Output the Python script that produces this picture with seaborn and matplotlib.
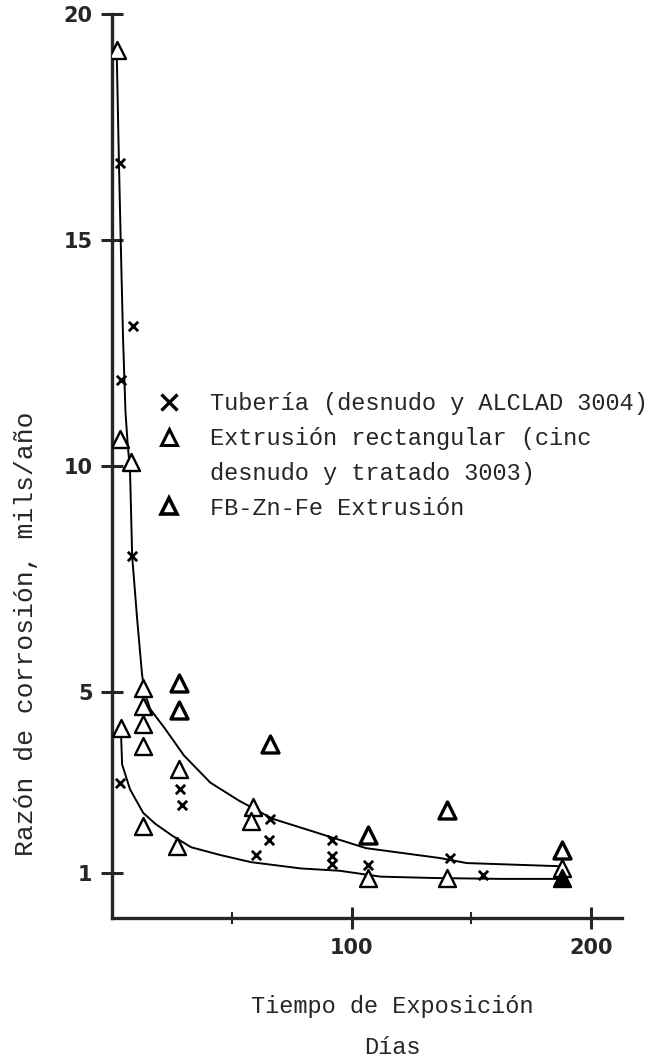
import matplotlib
matplotlib.use("Agg")
import matplotlib.pyplot as plt
import seaborn as sns
from matplotlib.lines import Line2D

# Tuberia (desnudo y ALCLAD 3004): x marks
tub_dias = [3.3, 8.8, 3.8, 8.4, 3.3, 28.5, 29, 66, 65.7, 60, 92, 92, 92, 107, 141, 155]
tub_razon = [16.7, 13.1, 11.9, 8.0, 3.0, 2.86, 2.5, 2.2, 1.72, 1.4, 1.74, 1.37, 1.2, 1.17, 1.33, 0.96]

# Extrusion rectangular (cinc desnudo y tratado 3003): triangles
rect_dias = [2, 3.3, 8, 13, 13, 13, 3.8, 13, 28, 59, 58, 13, 27, 188, 107, 140]
rect_razon = [19.2, 10.6, 10.1, 5.1, 4.7, 4.3, 4.2, 3.8, 3.3, 2.45, 2.15, 2.05, 1.6, 1.1, 0.9, 0.9]

# FB-Zn-Fe Extrusion: bold triangles
fb_dias = [28, 28, 66, 107, 140, 188]
fb_razon = [5.2, 4.6, 3.85, 1.85, 2.4, 1.5]

# overlapping marks at the last reading, drawn filled
lleno_dias = [188]
lleno_razon = [0.9]

# hand-drawn fitted curves
sup_dias = [2, 2.8, 3.6, 4.6, 5.6, 6.5, 7.5, 8.4, 10.5, 12.5, 13.5, 16, 22, 30, 41, 53, 67, 91, 106, 137, 148, 187]
sup_razon = [19.0, 16.9, 15.0, 12.8, 11.2, 10.5, 9.9, 8.0, 6.6, 5.4, 5.0, 4.62, 4.2, 3.6, 3.0, 2.6, 2.2, 1.8, 1.55, 1.33, 1.22, 1.15]
inf_dias = [3.8, 4.2, 7.5, 13, 18, 25, 33, 45, 58, 79, 95, 112, 134, 162, 187]
inf_razon = [4.0, 3.4, 2.85, 2.33, 2.09, 1.83, 1.57, 1.4, 1.24, 1.1, 1.05, 0.92, 0.89, 0.87, 0.87]

y_ticks = [1, 5, 10, 15, 20]
x_ticks = [100, 200]
x_minor = [50, 150]

labels = ["Tubería (desnudo y ALCLAD 3004)",
          "Extrusión rectangular (cinc",
          "desnudo y tratado 3003)",
          "FB-Zn-Fe Extrusión"]

sns.set_style("ticks")
plt.rcParams["font.family"] = ["Liberation Mono", "DejaVu Sans"]

fig = plt.figure(figsize=(6.67, 10.64), dpi=100)
ax = fig.add_axes([0.168, 0.137, 0.765, 0.850])

sns.lineplot(x=sup_dias, y=sup_razon, sort=False, estimator=None, color="black", lw=1.4, ax=ax, zorder=1)
sns.lineplot(x=inf_dias, y=inf_razon, sort=False, estimator=None, color="black", lw=1.4, ax=ax, zorder=1)

sns.scatterplot(x=rect_dias, y=rect_razon, marker="^", s=150, facecolor="white",
                edgecolor="black", linewidth=1.7, ax=ax, zorder=3)
sns.scatterplot(x=fb_dias, y=fb_razon, marker="^", s=150, facecolor="white",
                edgecolor="black", linewidth=2.4, ax=ax, zorder=3)
sns.scatterplot(x=lleno_dias, y=lleno_razon, marker="^", s=150, color="black",
                edgecolor="black", linewidth=1.7, ax=ax, zorder=3)
sns.scatterplot(x=tub_dias, y=tub_razon, marker="x", s=45, color="black",
                linewidth=2.0, ax=ax, zorder=4)

ax.set_xlim(0, 213)
ax.set_ylim(0, 20)
sns.despine(ax=ax)
for s in ["left", "bottom"]:
    ax.spines[s].set_linewidth(2.4)

ax.set_yticks(y_ticks)
ax.set_yticklabels([str(v) for v in y_ticks], family="DejaVu Sans", fontsize=15, weight="bold")
ax.set_xticks(x_ticks)
ax.set_xticklabels([str(v) for v in x_ticks], family="DejaVu Sans", fontsize=15, weight="bold")
ax.set_xticks(x_minor, minor=True)
ax.tick_params(axis="both", which="major", direction="inout", length=16, width=2.2, pad=6)
ax.tick_params(axis="x", which="minor", direction="inout", length=8, width=1.5)

ax.set_ylabel("Razón de corrosión, mils/año", fontsize=19)
ax.yaxis.set_label_coords(-0.145, 0.315)
ax.set_xlabel("Tiempo de Exposición\nDías", fontsize=17, linespacing=2.0)
ax.xaxis.set_label_coords(0.55, -0.085)

handles = [
    Line2D([], [], ls="none", marker="x", color="black", markersize=11, mew=2.4),
    Line2D([], [], ls="none", marker="^", mfc="white", mec="black", markersize=11, mew=2.2),
    Line2D([], [], ls="none"),
    Line2D([], [], ls="none", marker="^", mfc="white", mec="black", markersize=12, mew=2.6),
]
ax.legend(handles, labels, loc="upper left", bbox_to_anchor=(0.200, 1 - 371 / 1064),
          bbox_transform=fig.transFigure, frameon=False, fontsize=17,
          handletextpad=1.15, labelspacing=0.5, handlelength=1.2)

fig.savefig("out.png", dpi=100)
